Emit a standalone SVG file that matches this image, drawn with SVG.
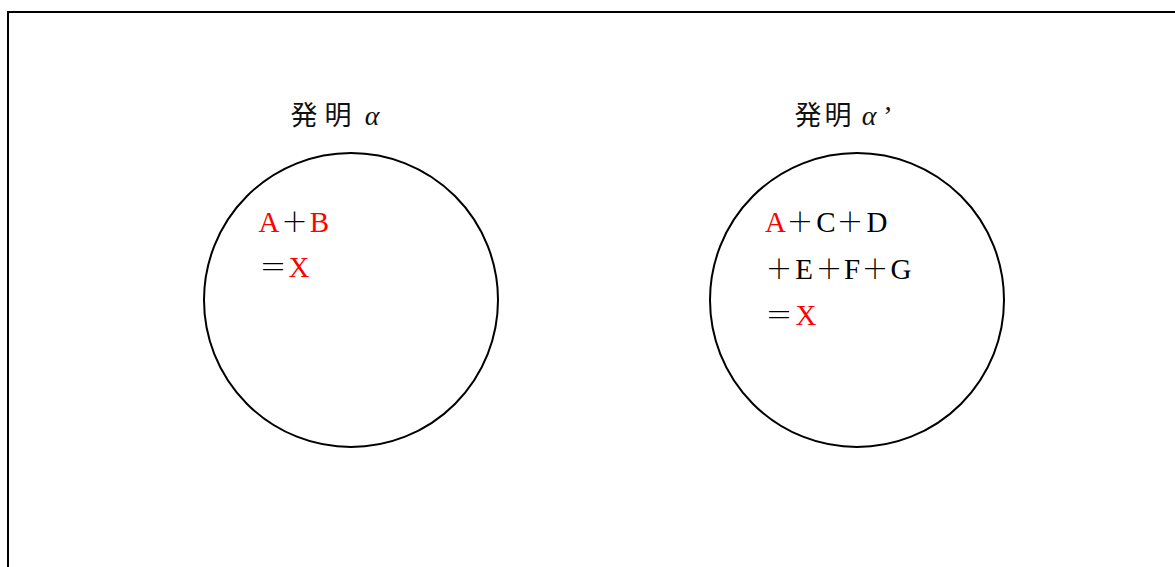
<svg xmlns="http://www.w3.org/2000/svg" width="1175" height="567" viewBox="0 0 1175 567">
<style>
.frame{fill:none;stroke:#000;stroke-width:2}
.c{fill:none;stroke:#000;stroke-width:2}
.t{font-family:"Liberation Serif","Noto Sans CJK JP",serif;font-size:29px;text-anchor:middle;fill:#000}
.r{fill:#FF0000}
.sym{font-family:"Noto Sans CJK JP",sans-serif;font-size:27px;font-weight:300}
.k{font-family:"Noto Sans CJK JP",sans-serif;font-size:27px;text-anchor:middle;fill:#111}
.g{font-family:"Liberation Serif",serif;font-style:italic;font-size:28px;text-anchor:middle;fill:#111}
</style>
<rect width="1175" height="567" fill="#fff"/>
<path class="frame" d="M8,567 V12 H1175"/>
<g id="invention-alpha">
  <text class="k" x="304" y="125">発</text>
  <text class="k" x="338" y="125">明</text>
  <text class="g" x="372" y="125">α</text>
  <circle class="c" cx="351" cy="300" r="147"/>
  <text class="t" y="232"><tspan class="r" x="269">A</tspan><tspan class="sym" x="294.5">＋</tspan><tspan class="r" x="319.5">B</tspan></text>
  <text class="t" y="277"><tspan class="sym" x="273">＝</tspan><tspan class="r" x="299">X</tspan></text>
</g>
<g id="invention-alpha-prime">
  <text class="k" x="808" y="125">発</text>
  <text class="k" x="838" y="125">明</text>
  <text class="g" x="869" y="125">α</text>
  <text class="g" x="888" y="125" style="font-style:normal">’</text>
  <circle class="c" cx="857" cy="300" r="147"/>
  <text class="t" y="232"><tspan class="r" x="775.5">A</tspan><tspan class="sym" x="800">＋</tspan><tspan x="826">C</tspan><tspan class="sym" x="850">＋</tspan><tspan x="877">D</tspan></text>
  <text class="t" y="279"><tspan class="sym" x="779">＋</tspan><tspan x="804">E</tspan><tspan class="sym" x="829">＋</tspan><tspan x="852">F</tspan><tspan class="sym" x="875">＋</tspan><tspan x="901">G</tspan></text>
  <text class="t" y="325"><tspan class="sym" x="779">＝</tspan><tspan class="r" x="806">X</tspan></text>
</g>
<g id="connectors"></g>
</svg>
